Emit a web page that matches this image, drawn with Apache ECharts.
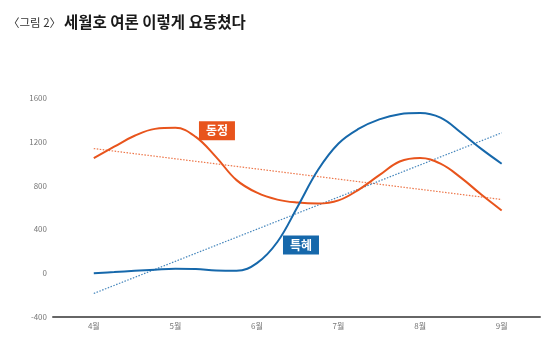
<!DOCTYPE html>
<html><head><meta charset="utf-8">
<script src="https://cdn.jsdelivr.net/npm/echarts@6/dist/echarts.min.js"></script>
<style>html,body{margin:0;padding:0;background:#fff}#c{width:550px;height:343px}</style>
</head><body><div id="c"></div>
<script>
const months = [4, 5, 6, 7, 8, 9];
const monthLabels = ['4월', '5월', '6월', '7월', '8월', '9월'];
const xPoints = [4, 4.25, 4.5, 4.75, 5, 5.25, 5.5, 5.75, 6, 6.25, 6.5, 6.75, 7, 7.25, 7.5, 7.75, 8, 8.25, 8.5, 8.75, 9];
const dongjeong = [1052, 1155, 1255, 1318, 1328, 1245, 1060, 850, 735, 672, 645, 636, 665, 764, 895, 1020, 1052, 1000, 873, 718, 573];
const teukhye = [0, 10, 22, 32, 40, 38, 24, 22, 92, 285, 610, 945, 1185, 1320, 1405, 1452, 1462, 1420, 1285, 1135, 1000];
const dongjeongTrend = [1138, 673];
const teukhyeTrend = [-185, 1282];
const yTicks = [-400, 0, 400, 800, 1200, 1600];
const names = ['동정', '특혜'];
const labelPos = { '동정': [5.51, 1300], '특혜': [6.54, 258] };

const ORANGE = '#e8541c', BLUE = '#1668ab';
const font = '"Noto Sans CJK KR", "Noto Sans", sans-serif';
const pair = (xs, ys) => xs.map((x, i) => [x, ys[i]]);

const chart = echarts.init(document.getElementById('c'), null, { renderer: 'canvas' });
chart.setOption({
  animation: false,
  backgroundColor: '#fff',
  textStyle: { fontFamily: font },
  title: [
    { text: '〈그림 2〉', left: 3, top: 12, textStyle: { fontSize: 11.5, fontWeight: 'normal', color: '#333', fontFamily: font } },
    { text: '세월호 여론 이렇게 요동쳤다', left: 59, top: 9, textStyle: { fontSize: 15.5, fontWeight: 'bold', color: '#1a1a1a', fontFamily: font } }
  ],
  grid: { left: 53, right: 10, top: 98, bottom: 26 },
  xAxis: {
    type: 'value', min: 3.5, max: 9.47,
    axisLine: { onZero: false, lineStyle: { color: '#666', width: 2 } },
    axisTick: { show: false },
    splitLine: { show: false },
    axisLabel: {
      customValues: months,
      formatter: v => monthLabels[months.indexOf(Math.round(v))] || '',
      color: '#777', fontSize: 8, margin: 5, fontFamily: font
    }
  },
  yAxis: {
    type: 'value', min: yTicks[0], max: yTicks[yTicks.length - 1], interval: 400,
    axisLine: { show: false }, axisTick: { show: false }, splitLine: { show: false },
    axisLabel: { color: '#777', fontSize: 8, margin: 6, fontFamily: font, formatter: v => String(v) }
  },
  series: [
    {
      name: names[0], type: 'line', data: pair([months[0], months[5]], dongjeongTrend),
      symbol: 'none', lineStyle: { color: ORANGE, width: 1.2, type: [1.5, 1.5], opacity: 0.8 }, z: 1
    },
    {
      name: names[1], type: 'line', data: pair([months[0], months[5]], teukhyeTrend),
      symbol: 'none', lineStyle: { color: BLUE, width: 1.2, type: [1.5, 1.5], opacity: 0.8 }, z: 1
    },
    {
      name: names[0], type: 'line', data: pair(xPoints, dongjeong), smooth: 0.4,
      symbol: 'none', lineStyle: { color: ORANGE, width: 2 }, z: 3,
      markPoint: {
        symbol: 'rect', symbolSize: [36, 19], itemStyle: { color: ORANGE },
        label: { show: true, formatter: names[0], color: '#fff', fontSize: 12, fontWeight: 'bold', fontFamily: font },
        data: [{ coord: labelPos['동정'] }]
      }
    },
    {
      name: names[1], type: 'line', data: pair(xPoints, teukhye), smooth: 0.4,
      symbol: 'none', lineStyle: { color: BLUE, width: 2 }, z: 3,
      markPoint: {
        symbol: 'rect', symbolSize: [36, 19], itemStyle: { color: BLUE },
        label: { show: true, formatter: names[1], color: '#fff', fontSize: 12, fontWeight: 'bold', fontFamily: font },
        data: [{ coord: labelPos['특혜'] }]
      }
    }
  ]
});
</script></body></html>
